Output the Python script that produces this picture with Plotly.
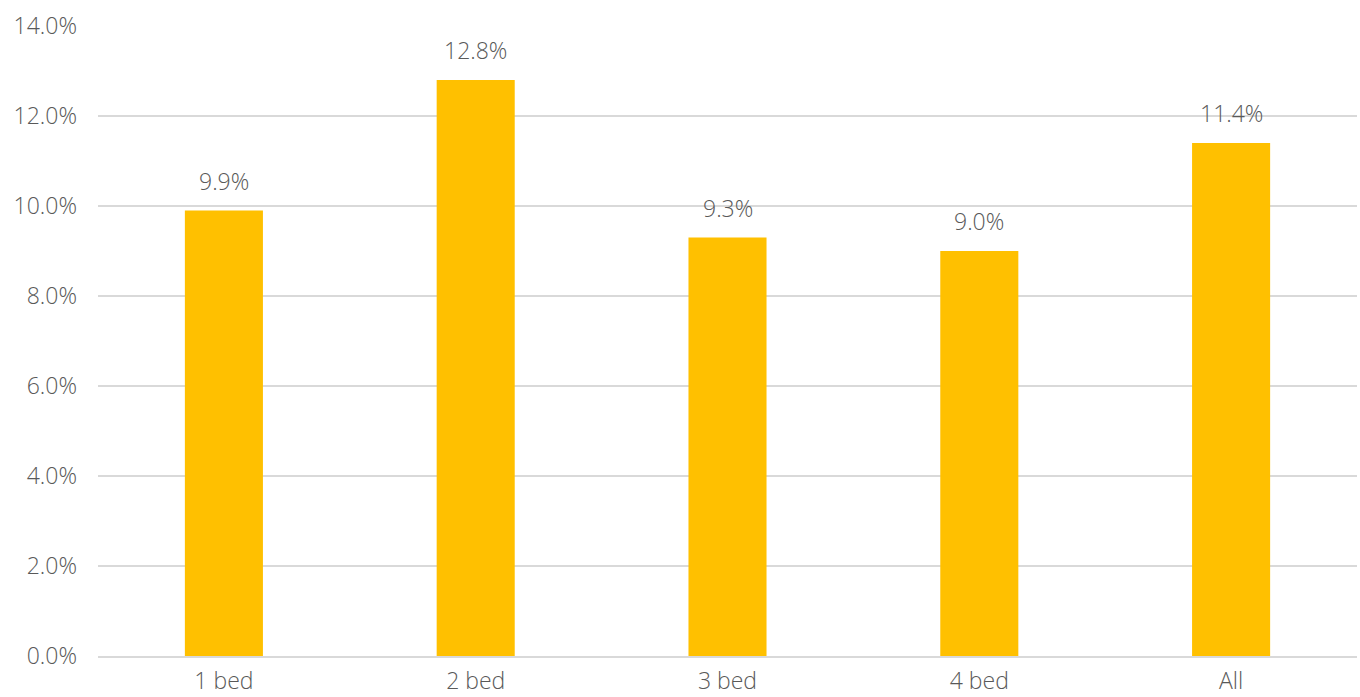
import plotly.graph_objects as go

categories = ["1 bed", "2 bed", "3 bed", "4 bed", "All"]
values = [9.9, 12.8, 9.3, 9.0, 11.4]
tick_vals = [0, 2, 4, 6, 8, 10, 12, 14]
tick_text = ["0.0%", "2.0%", "4.0%", "6.0%", "8.0%", "10.0%", "12.0%", "14.0%"]

font_family = "Open Sans, Noto Sans, sans-serif"
text_color = "#595959"
font_size = 23
font_weight = 300

fig = go.Figure(
    go.Bar(
        x=categories,
        y=values,
        marker=dict(color="#FFC000", line=dict(width=0)),
        hoverinfo="skip",
    )
)

# value labels above each bar
for c, v in zip(categories, values):
    fig.add_annotation(
        x=c, y=v, text=f"{v:.1f}%", showarrow=False,
        yanchor="bottom", yshift=12,
        font=dict(family=font_family, size=font_size, color=text_color, weight=font_weight),
    )

fig.update_layout(
    width=1360, height=697,
    margin=dict(l=98, r=3, t=26, b=41),
    paper_bgcolor="white", plot_bgcolor="white",
    bargap=0.69,
    showlegend=False,
    font=dict(family=font_family, size=font_size, color=text_color, weight=font_weight),
    xaxis=dict(
        showgrid=False, showline=True, linecolor="#D9D9D9", linewidth=1.5,
        ticks="", ticklabelstandoff=4, automargin=False,
        tickfont=dict(size=font_size, color=text_color, weight=font_weight),
    ),
    yaxis=dict(
        range=[0, 14], tickvals=tick_vals, ticktext=tick_text,
        showgrid=True, gridcolor="#D9D9D9", gridwidth=1.5,
        zeroline=False, showline=False, ticks="",
        ticklabelstandoff=20, automargin=False,
        tickfont=dict(size=font_size, color=text_color, weight=font_weight),
    ),
)

fig.write_html("out.html")
